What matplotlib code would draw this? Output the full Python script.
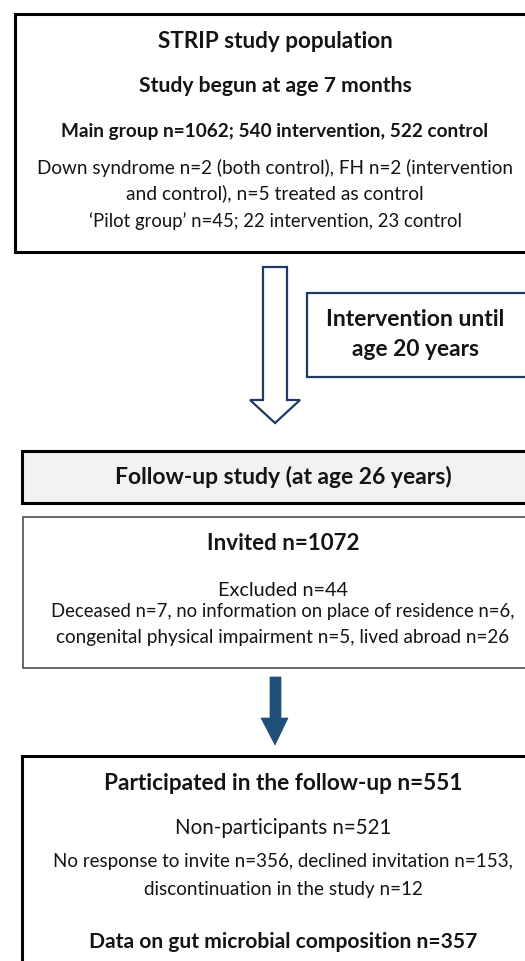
import matplotlib
matplotlib.use('Agg')
import matplotlib.pyplot as plt
import matplotlib.patches as mplpatches

plt.rcParams['font.family'] = ['Lato', 'DejaVu Sans']

# text of the flowchart boxes
populationLines = ['STRIP study population',
                   'Study begun at age 7 months',
                   'Main group n=1062; 540 intervention, 522 control',
                   'Down syndrome n=2 (both control), FH n=2 (intervention',
                   'and control), n=5 treated as control',
                   '\u2018Pilot group\u2019 n=45; 22 intervention, 23 control']
interventionLines = ['Intervention until', 'age 20 years']
followupLines = ['Follow-up study (at age 26 years)']
invitedLines = ['Invited n=1072',
                'Excluded n=44',
                'Deceased n=7, no information on place of residence n=6,',
                'congenital physical impairment n=5, lived abroad n=26']
participatedLines = ['Participated in the follow-up n=551',
                     'Non-participants n=521',
                     'No response to invite n=356, declined invitation n=153,',
                     'discontinuation in the study n=12',
                     'Data on gut microbial composition n=357']

figureWidth = 5.25
figureHeight = 9.61
fig = plt.figure(figsize=(figureWidth, figureHeight), dpi=100)
panel = plt.axes([0, 0, 1, 1])
panel.set_xlim(0, 525)
panel.set_ylim(961, 0)
panel.axis('off')

navy = (31/255, 56/255, 100/255)
blue = (31/255, 78/255, 121/255)
textColor = (0.08, 0.08, 0.08)

fig.canvas.draw()
renderer = fig.canvas.get_renderer()


def fitText(x, y, s, width, bold=False):
    # place a line of text and scale it so it spans roughly `width` pixels
    t = panel.text(x, y, s, ha='center', va='center', fontsize=12,
                   fontweight='bold' if bold else 'normal', color=textColor)
    w = t.get_window_extent(renderer=renderer).width
    t.set_fontsize(12 * width / w)
    return t


def box(x0, y0, x1, y1, lw, edge='black', face='white'):
    panel.add_patch(mplpatches.Rectangle((x0, y0), x1 - x0, y1 - y0,
                                         linewidth=lw, edgecolor=edge,
                                         facecolor=face, zorder=1))


# box 1: study population
box(15, 14, 535, 252, 2.2)
popY = [42, 86, 131, 168, 193, 221]
popW = [235, 272, 424, 474, 297, 373]
popBold = [True, True, True, False, False, False]
for s, y, w, b in zip(populationLines, popY, popW, popBold):
    fitText(275, y, s, w, b)

# hollow arrow
arrowPts = [(263, 267), (287, 267), (287, 400), (300, 400), (275, 423),
            (250, 400), (263, 400)]
panel.add_patch(mplpatches.Polygon(arrowPts, closed=True, facecolor='white',
                                   edgecolor=navy, linewidth=1.6, zorder=2))

# intervention box
box(307, 293, 535, 377, 1.6, edge=navy)
for s, y, w in zip(interventionLines, [320, 350], [178, 127]):
    fitText(415, y, s, w, True)

# box 2: follow-up
box(22, 451, 535, 503, 2.2, face=(0.95, 0.95, 0.95))
fitText(283, 477, followupLines[0], 335, True)

# box 3: invited
box(23, 517, 535, 668, 1.1, edge=(0.25, 0.25, 0.25))
invY = [543, 590, 611, 638]
invW = [152, 130, 464, 452]
invBold = [True, False, False, False]
for s, y, w, b in zip(invitedLines, invY, invW, invBold):
    fitText(283, y, s, w, b)

# solid arrow
solidPts = [(270, 677), (281, 677), (281, 718), (288, 718), (275, 745),
            (261, 718), (270, 718)]
panel.add_patch(mplpatches.Polygon(solidPts, closed=True, facecolor=blue,
                                   edgecolor=blue, linewidth=0.5, zorder=2))

# box 4: participated
box(22, 756, 535, 975, 2.2)
parY = [783, 828, 861, 890, 942]
parW = [358, 215, 459, 277, 384]
parBold = [True, False, False, False, True]
for s, y, w, b in zip(participatedLines, parY, parW, parBold):
    fitText(283, y, s, w, b)

plt.savefig('out.png', dpi=100)
